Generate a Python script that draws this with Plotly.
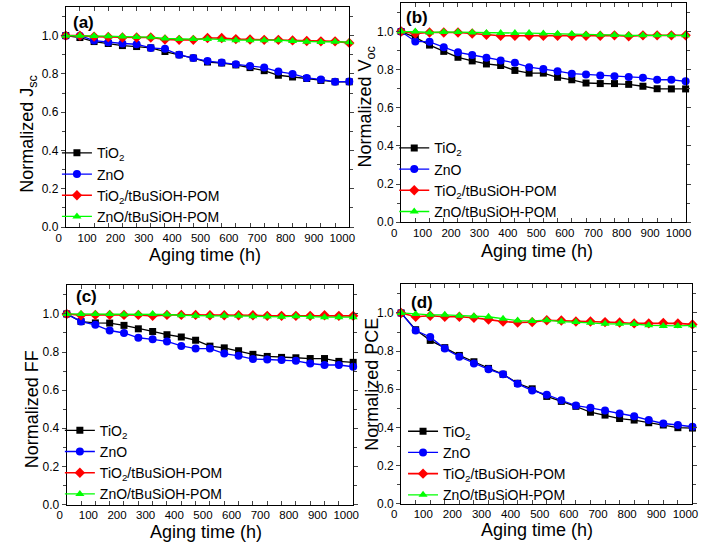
import plotly.graph_objects as go

# Aging time (h)
hours = [0, 50, 100, 150, 200, 250, 300, 350, 400, 450, 500,
         550, 600, 650, 700, 750, 800, 850, 900, 950, 1000]

# (a) Normalized Jsc
jsc_tio2 = [1.0, 0.99, 0.969, 0.959, 0.948, 0.943, 0.936, 0.917, 0.9, 0.883, 0.862,
            0.857, 0.847, 0.833, 0.817, 0.793, 0.784, 0.776, 0.766, 0.759, 0.759]
jsc_zno = [1.0, 1.0, 0.974, 0.966, 0.959, 0.955, 0.936, 0.931, 0.9, 0.883, 0.867,
           0.859, 0.85, 0.841, 0.833, 0.812, 0.8, 0.779, 0.771, 0.759, 0.76]
jsc_tio2_pom = [1.0, 1.0, 0.995, 0.993, 0.99, 0.99, 0.99, 0.98, 0.978, 0.978, 0.988,
                0.988, 0.982, 0.98, 0.978, 0.978, 0.975, 0.972, 0.97, 0.97, 0.962]
jsc_zno_pom = [1.0, 1.0, 0.998, 0.997, 0.995, 0.993, 0.992, 0.985, 0.983, 0.982, 0.983,
               0.978, 0.976, 0.976, 0.976, 0.976, 0.972, 0.968, 0.967, 0.968, 0.966]

# (b) Normalized Voc
voc_tio2 = [1.0, 0.969, 0.929, 0.896, 0.865, 0.846, 0.83, 0.822, 0.796, 0.782, 0.782,
            0.76, 0.747, 0.73, 0.727, 0.727, 0.723, 0.713, 0.70, 0.699, 0.699]
voc_zno = [1.0, 0.948, 0.946, 0.917, 0.891, 0.877, 0.862, 0.848, 0.836, 0.813, 0.804,
           0.792, 0.779, 0.775, 0.77, 0.765, 0.761, 0.758, 0.747, 0.747, 0.739]
voc_tio2_pom = [1.0, 0.99, 0.995, 0.995, 0.995, 0.99, 0.983, 0.978, 0.978, 0.978, 0.978,
                0.978, 0.978, 0.978, 0.978, 0.98, 0.975, 0.98, 0.98, 0.98, 0.98]
voc_zno_pom = [1.0, 1.0, 0.995, 0.998, 0.997, 0.995, 0.993, 0.993, 0.992, 0.992, 0.99,
               0.988, 0.987, 0.983, 0.983, 0.982, 0.98, 0.98, 0.98, 0.98, 0.98]

# (c) Normalized FF
ff_tio2 = [1.0, 0.96, 0.953, 0.952, 0.94, 0.922, 0.908, 0.891, 0.879, 0.862, 0.831,
           0.822, 0.807, 0.788, 0.777, 0.772, 0.77, 0.766, 0.766, 0.751, 0.746]
ff_zno = [1.0, 0.96, 0.943, 0.913, 0.9, 0.875, 0.867, 0.856, 0.832, 0.818, 0.818,
          0.792, 0.78, 0.763, 0.761, 0.758, 0.754, 0.74, 0.732, 0.732, 0.723]
ff_tio2_pom = [1.0, 0.993, 0.995, 0.995, 0.995, 0.995, 0.99, 0.995, 0.995, 0.995, 0.993,
               0.993, 0.993, 0.993, 0.99, 0.99, 0.99, 0.99, 0.993, 0.99, 0.99]
ff_zno_pom = [1.0, 1.0, 1.0, 1.0, 0.997, 1.0, 1.0, 0.997, 0.993, 0.99, 0.99,
              0.99, 0.99, 0.988, 0.986, 0.985, 0.988, 0.985, 0.983, 0.983, 0.983]

# (d) Normalized PCE
pce_tio2 = [1.0, 0.912, 0.856, 0.818, 0.777, 0.744, 0.709, 0.678, 0.631, 0.602, 0.562,
            0.536, 0.51, 0.479, 0.464, 0.446, 0.438, 0.424, 0.412, 0.398, 0.396]
pce_zno = [1.0, 0.908, 0.874, 0.813, 0.77, 0.735, 0.704, 0.678, 0.628, 0.593, 0.571,
           0.542, 0.514, 0.502, 0.488, 0.472, 0.458, 0.438, 0.42, 0.412, 0.403]
pce_tio2_pom = [1.0, 0.98, 0.985, 0.98, 0.98, 0.975, 0.965, 0.955, 0.95, 0.952, 0.962,
                0.96, 0.955, 0.955, 0.952, 0.95, 0.945, 0.945, 0.947, 0.945, 0.94]
pce_zno_pom = [1.0, 0.995, 0.99, 0.99, 0.985, 0.983, 0.98, 0.97, 0.96, 0.958, 0.962,
               0.955, 0.953, 0.948, 0.943, 0.943, 0.942, 0.935, 0.932, 0.932, 0.935]

series_names = ["TiO<sub>2</sub>", "ZnO", "TiO<sub>2</sub>/tBuSiOH-POM", "ZnO/tBuSiOH-POM"]
panel_labels = ["(a)", "(b)", "(c)", "(d)"]
y_titles = ["Normalized J<sub>sc</sub>", "Normalized V<sub>oc</sub>",
            "Normalized FF", "Normalized PCE"]
x_title = "Aging time (h)"

panels = [
    [jsc_tio2, jsc_zno, jsc_tio2_pom, jsc_zno_pom],
    [voc_tio2, voc_zno, voc_tio2_pom, voc_zno_pom],
    [ff_tio2, ff_zno, ff_tio2_pom, ff_zno_pom],
    [pce_tio2, pce_zno, pce_tio2_pom, pce_zno_pom],
]

W, H = 718, 553
FONT = "Arial, Liberation Sans, sans-serif"
colors = ["#000000", "#0000ff", "#ff0000", "#00ff00"]
symbols = ["square", "circle", "diamond", "triangle-up"]
sizes = [7, 8, 8, 8]
widths = [1.3, 1.3, 1.6, 1.3]

# plot-area boxes in pixels: (left, right, top, bottom)
boxes = [(57, 347, 7, 230), (400, 691, 3, 225), (58, 351, 289, 511), (400, 698, 288, 510)]
# legend anchor (left, top) in pixels
legend_pos = [(48, 139), (393, 134), (51, 420), (402, 421)]
# panel tag, y-title and x-title centres in pixels
label_pos = [(62, 23), (403, 18), (65, 300), (408, 306)]
ytitle_pos = [(19, 136), (365, 108), (22, 415), (370, 389)]
xtitle_pos = [(199, 258), (539, 254), (200, 539), (539, 537)]

fig = go.Figure()
layout = dict(
    width=W, height=H, margin=dict(l=0, r=0, t=0, b=0),
    paper_bgcolor="white", plot_bgcolor="white",
    font=dict(family=FONT, color="black"),
    showlegend=True, annotations=[],
)


def txt(text, x, y, size, angle=0, xanchor="center"):
    return dict(text=text, xref="paper", yref="paper", x=x / W, y=1 - y / H,
                xanchor=xanchor, yanchor="middle", textangle=angle,
                showarrow=False, font=dict(size=size, family=FONT, color="black"))


for p, data in enumerate(panels):
    sfx = "" if p == 0 else str(p + 1)
    leg = "legend" + sfx
    for k, ys in enumerate(data):
        fig.add_trace(go.Scatter(
            x=hours, y=ys, name=series_names[k], mode="lines+markers",
            line=dict(color=colors[k], width=widths[k]),
            marker=dict(symbol=symbols[k], size=sizes[k], color=colors[k]),
            xaxis="x" + sfx, yaxis="y" + sfx, legend=leg, cliponaxis=False,
        ))
    l, r, t, b = boxes[p]
    layout["xaxis" + sfx] = dict(
        domain=[l / W, r / W], anchor="y" + sfx, range=[0, 1000],
        tickvals=list(range(0, 1001, 100)), ticks="inside", ticklen=4,
        tickfont=dict(size=11.5), ticklabelshift=-7,
        minor=dict(dtick=50, ticks="inside", ticklen=4),
        showline=True, linecolor="black", linewidth=1, mirror="ticks",
        showgrid=False, zeroline=False,
    )
    layout["yaxis" + sfx] = dict(
        domain=[1 - b / H, 1 - t / H], anchor="x" + sfx, range=[0, 1.15],
        tickvals=[0, 0.2, 0.4, 0.6, 0.8, 1.0], tickformat=".1f",
        ticks="outside", ticklen=4, tickfont=dict(size=12),
        minor=dict(dtick=0.1, ticks="outside", ticklen=3),
        showline=True, linecolor="black", linewidth=1, mirror="ticks",
        showgrid=False, zeroline=False,
    )
    lx, ly = legend_pos[p]
    layout[leg] = dict(
        x=lx / W, y=1 - ly / H, xanchor="left", yanchor="top",
        bgcolor="rgba(0,0,0,0)", font=dict(size=14, family=FONT),
        itemwidth=30,
    )
    ax, ay = label_pos[p]
    layout["annotations"].append(txt("<b>" + panel_labels[p] + "</b>", ax, ay, 17,
                                     xanchor="left"))
    yx, yy = ytitle_pos[p]
    layout["annotations"].append(txt(y_titles[p], yx, yy, 18, angle=-90))
    xx, xy = xtitle_pos[p]
    layout["annotations"].append(txt(x_title, xx, xy, 18))

fig.update_layout(**layout)
fig.write_html("out.html")
